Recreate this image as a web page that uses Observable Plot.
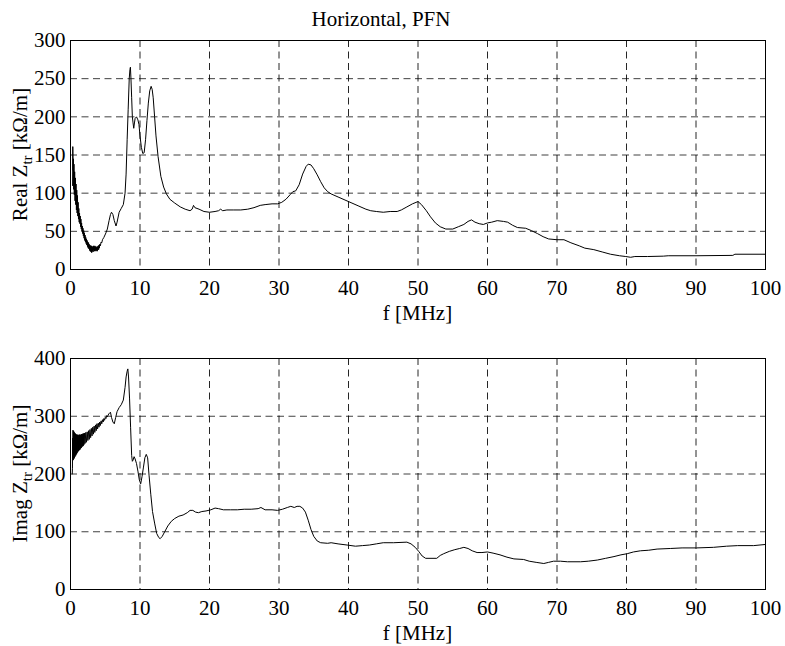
<!DOCTYPE html>
<html>
<head>
<meta charset="utf-8">
<script src="https://cdn.jsdelivr.net/npm/d3@7"></script>
<script src="https://cdn.jsdelivr.net/npm/@observablehq/plot@0.6"></script>
<style>
  html, body { margin: 0; padding: 0; background: #fff; font-family: 'Liberation Serif'; }
  #chart svg { display: block; }
  #chart svg text, #chart svg tspan { font-family: 'Liberation Serif' !important; }
</style>
</head>
<body>
<div id="chart"></div>
<script>
// ---- data ----
const titleText = "Horizontal, PFN";
const xTicks = [0, 10, 20, 30, 40, 50, 60, 70, 80, 90, 100];
const xGrid = [10, 20, 30, 40, 50, 60, 70, 80, 90];
const realTicks = [0, 50, 100, 150, 200, 250, 300];
const realGrid = [50, 100, 150, 200, 250];
const imagTicks = [0, 100, 200, 300, 400];
const imagGrid = [100, 200, 300];

// Real Z_tr [kOhm/m] vs f [MHz]
const realF = [
  0.30,0.33,0.38,0.42,0.46,0.50,0.55,0.60,0.65,0.70,0.75,0.80,0.85,0.90,0.95,1.00,1.05,1.10,1.15,1.20,
  1.25,1.30,1.35,1.40,1.45,1.50,1.55,1.60,1.65,1.70,1.75,1.80,1.85,1.90,1.95,2.00,2.05,2.10,2.15,2.20,
  2.25,2.30,2.35,2.40,2.45,2.50,2.55,2.60,2.65,2.70,2.75,2.80,2.85,2.90,2.95,3.00,3.05,3.10,3.15,3.20,
  3.25,3.30,3.35,3.40,3.45,3.50,3.55,3.60,3.65,3.70,3.75,3.80,3.85,3.90,3.95,4.00,4.05,4.10,4.15,4.20,
  4.30,4.40,4.50,4.60,
  4.8,5.1,5.3,5.55,5.75,5.9,6.1,6.3,6.55,6.7,7.0,7.3,7.6,7.85,8.0,8.15,8.3,8.45,8.55,8.62,
  8.7,8.8,8.9,9.0,9.1,9.2,9.3,9.5,9.7,9.85,10.0,10.2,10.4,10.6,10.8,11.0,11.2,11.4,11.6,11.75,
  11.9,12.1,12.3,12.6,13.0,13.4,13.8,14.3,15.0,15.8,16.5,17.2,17.5,17.7,17.9,18.5,19.2,20.0,20.8,21.3,
  21.6,21.9,22.5,23.5,24.5,25.5,26.4,27.3,28.0,29.0,29.8,30.4,31.0,31.6,32.0,32.4,32.9,33.4,33.9,34.2,
  34.6,35.0,35.5,36.0,36.5,37.0,37.5,38.5,39.5,40.5,41.5,42.5,43.2,44.0,45.0,46.0,47.0,47.6,48.4,49.2,
  50.0,50.5,51.2,51.8,52.5,53.2,54.0,55.0,55.8,56.6,57.2,57.7,58.2,58.8,59.4,60.0,60.6,61.4,62.3,62.9,
  63.6,64.3,65.5,66.3,67.2,68.0,68.8,70.0,71.0,72.0,73.2,74.0,75.3,76.5,77.7,79.0,79.9,80.6,81.2,83.0,
  85.3,86.0,90.0,95.3,95.6,100
];
const realZ = [
  110,161,130,145,105,138,98,128,90,120,85,112,78,104,74,97,70,88,66,80,
  62,74,60,70,56,66,53,61,50,57,47,54,44,51,41,48,38,45,36,42,
  34,40,32,38,30,36,28,35,27,33,25,32,24,31,23,31,22,30,24,30,
  23,31,25,30,24,31,25,30,24,29,25,30,24,30,26,31,26,32,28,33,
  31,36,35,39,
  42,48,53,64,72,75,72,64,57,62,75,80,85,100,125,170,210,250,262,265,
  250,225,200,192,185,192,198,200,196,190,175,160,152,153,170,195,218,234,240,236,
  225,200,175,148,122,108,99,92,87,82,79,77,79,84,81,79,76,75,76,77,
  79,77,78,78,78,79,81,84,85,86,86,88,92,98,102,103,111,125,135,138,
  137,132,124,115,107,102,99,95,91,87,83,79,77,76,75,76,76,78,82,86,
  89,85,77,69,61,56,53,53,56,59,63,65,62,60,59,61,62,64,63,62,
  58,55,54,51,47,43,40,39,39,35,31,28,26,23,20,18,17,16,17,17,
  17.5,18,18,18.5,20,20
];

// Imag Z_tr [kOhm/m] vs f [MHz]
const imagF = [
  0.25,0.28,0.30,0.33,0.36,0.40,0.44,0.48,0.52,0.56,0.60,0.65,0.70,0.75,0.80,0.85,0.90,0.95,1.00,1.05,
  1.10,1.15,1.20,1.25,1.30,1.35,1.40,1.45,1.50,1.55,1.60,1.65,1.70,1.75,1.80,1.85,1.90,1.95,2.00,2.10,
  2.20,2.30,2.40,2.50,2.60,2.70,2.80,2.90,3.00,3.10,3.20,3.30,3.40,3.50,3.60,3.70,3.80,3.90,4.00,4.10,
  4.20,4.30,4.40,4.50,4.60,4.70,4.80,4.90,5.00,5.10,5.20,5.30,
  5.5,5.75,5.9,6.1,6.3,6.5,6.7,7.0,7.3,7.6,7.85,8.0,8.15,8.25,8.35,8.5,8.65,8.8,8.9,9.0,
  9.15,9.3,9.5,9.7,9.9,10.1,10.3,10.5,10.7,10.9,11.1,11.3,11.55,11.8,12.1,12.4,12.7,12.9,13.2,13.6,
  14.0,14.5,15.0,15.6,16.2,16.8,17.2,17.6,18.0,18.4,18.9,19.5,20.2,20.8,21.3,22,23,24,25,26,
  27.0,27.4,28,29,29.8,30.5,31.2,31.7,32.2,32.6,33.0,33.4,33.8,34.2,34.6,35.0,35.5,36.0,37.0,37.5,
  38.5,39.8,41.0,42.0,43.0,44.0,45.0,46.5,48.4,49.0,49.6,50.1,50.6,51.1,52.7,53.2,53.7,54.5,55.3,56.0,
  56.6,57.2,57.8,58.5,59.2,60.0,60.8,61.8,62.8,63.8,65.2,66.0,67.0,68.1,68.8,69.5,70.5,71.5,73.4,74.5,
  75.8,77.0,78.2,79.2,80.1,81.0,82.0,83.2,84.4,86.3,88,90.1,92.5,94.4,96,98.3,100
];
const imagZ = [
  200,210,262,230,276,224,274,226,273,228,271,230,270,232,269,234,268,236,268,238,
  267,240,268,241,268,242,268,244,268,245,269,247,269,248,270,249,270,251,271,253,
  272,255,273,258,275,260,277,263,279,266,281,269,283,272,285,275,287,278,288,281,
  290,284,292,287,294,290,296,293,298,296,301,299,
  304,307,298,290,287,298,308,315,320,328,350,368,378,382,368,330,280,232,222,224,
  230,226,218,205,190,183,196,212,228,234,228,198,165,135,115,97,90,88,92,101,
  110,118,123,127,129,133,137,137,134,133,135,136,138,141,140,138,138,138,139,139,
  140,142,138,138,137,139,142,144,142,144,144,141,134,120,104,92,84,81,80,81,
  79,77,75,76,77,79,81,81,82,79,73,66,58,54,54,59,62,66,69,71,
  73,71,67,64,64,65,63,60,56,53,52,49,47,45,47,49,49,48,48,49,
  51,54,57,60,62,65,67,68,70,71,72,72,73,75,76,76,78
];

const realData = realF.map((f, i) => ({f, v: realZ[i]}));
const imagData = imagF.map((f, i) => ({f, v: imagZ[i]}));

const FONT = "'Liberation Serif', serif";
const W = 785, ML = 70, MR = 20;

function panel({data, height, marginTop, marginBottom, yDomain, yTicks, yGrid, yLabel, title}) {
  const svg = Plot.plot({
    width: W,
    height,
    marginLeft: ML,
    marginRight: MR,
    marginTop,
    marginBottom,
    style: {fontSize: "21px", color: "#000", background: "#fff", overflow: "visible"},
    x: {domain: [0, 100], ticks: xTicks, tickSize: 0, tickPadding: 11, label: null},
    y: {domain: yDomain, ticks: yTicks, tickSize: 0, tickPadding: 5, label: null},
    marks: [
      Plot.gridX(xGrid, {stroke: "#000", strokeOpacity: 0.85, strokeDasharray: "7,4.5"}),
      Plot.gridY(yGrid, {stroke: "#000", strokeOpacity: 0.75, strokeDasharray: "7,4.5"}),
      Plot.line(data, {x: "f", y: "v", stroke: "#000", strokeWidth: 1}),
      Plot.frame({stroke: "#000", strokeWidth: 1})
    ]
  });
  const s = d3.select(svg);
  s.attr("font-family", FONT);
  s.style("font-family", FONT);
  s.selectAll("text").attr("font-family", FONT).style("font-family", FONT);
  const frameBottom = height - marginBottom;
  const cy = (marginTop + frameBottom) / 2;
  // x label
  s.append("text")
    .attr("x", (ML + W - MR) / 2)
    .attr("y", frameBottom + 50.5)
    .attr("text-anchor", "middle")
    .attr("fill", "#000")
    .attr("font-family", FONT)
    .attr("font-size", 21)
    .text("f [MHz]");
  // y label with subscript
  const t = s.append("text")
    .attr("transform", `translate(27,${cy}) rotate(-90)`)
    .attr("text-anchor", "middle")
    .attr("fill", "#000")
    .attr("font-family", FONT)
    .attr("font-size", 21);
  t.append("tspan").text(yLabel + " Z");
  t.append("tspan").attr("dy", 5).attr("font-size", 15).text("tr");
  t.append("tspan").attr("dy", -5).attr("font-size", 21).text(" [kΩ/m]");
  if (title) {
    s.append("text")
      .attr("x", 381)
      .attr("y", 26)
      .attr("text-anchor", "middle")
      .attr("fill", "#000")
      .attr("font-family", FONT)
      .attr("font-size", 21)
      .text(title);
  }
  return svg;
}

const chart = document.getElementById("chart");
chart.appendChild(panel({
  data: realData, height: 330, marginTop: 40, marginBottom: 61,
  yDomain: [0, 300], yTicks: realTicks, yGrid: realGrid, yLabel: "Real", title: titleText
}));
chart.appendChild(panel({
  data: imagData, height: 316, marginTop: 28, marginBottom: 57,
  yDomain: [0, 400], yTicks: imagTicks, yGrid: imagGrid, yLabel: "Imag", title: null
}));
</script>
</body>
</html>
